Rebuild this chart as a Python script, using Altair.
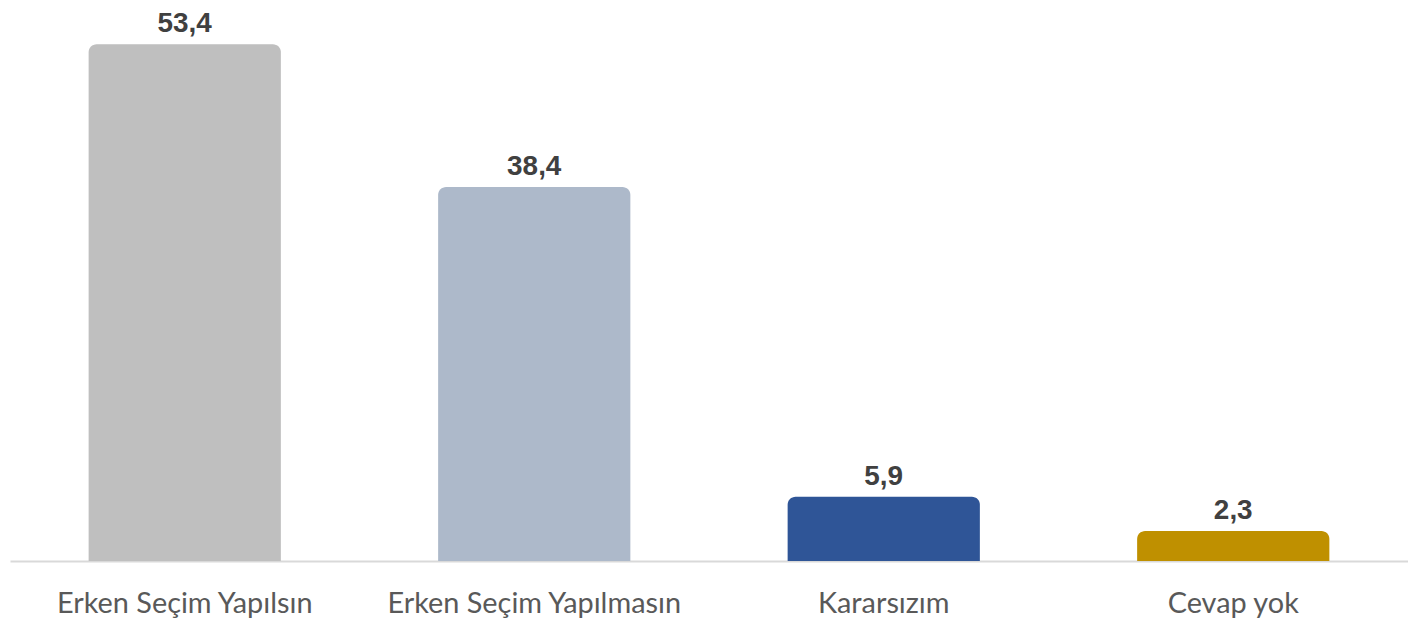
import altair as alt
import pandas as pd

categories = ["Erken Seçim Yapılsın", "Erken Seçim Yapılmasın", "Kararsızım", "Cevap yok"]
values = [53.4, 38.4, 5.9, 2.3]
labels = ["53,4", "38,4", "5,9", "2,3"]
colors = ["#bfbfbf", "#adb9ca", "#2f5597", "#bf9000"]

df = pd.DataFrame({"cat": categories, "val": values, "lab": labels, "col": colors})

BASE = -0.84
x = alt.X("cat:N", sort=categories, title=None,
          scale=alt.Scale(paddingInner=0.45, paddingOuter=0.225),
          axis=alt.Axis(labelAngle=0, ticks=False, domain=True, domainColor="#d9d9d9",
                        domainWidth=2, labelFont="Lato", labelFontSize=29, labelLimit=0,
                        labelColor="#595959", labelPadding=29, labelBaseline="top"))
y = alt.Y("val:Q", title=None, scale=alt.Scale(domain=[BASE, 56.01], nice=False, zero=False),
          axis=None)

base = alt.Chart(df)
bars = base.mark_bar(cornerRadiusTopLeft=8, cornerRadiusTopRight=8).encode(
    x=x, y=y, y2=alt.datum(BASE),
    color=alt.Color("col:N", scale=None))
text = base.mark_text(font="Liberation Sans", fontWeight="bold", fontSize=28,
                      color="#404040", baseline="alphabetic", dy=-12).encode(
    x=alt.X("cat:N", sort=categories), y="val:Q", text="lab:N")

chart = alt.layer(bars, text).properties(
    width=1404, height=544,
    padding={"left": 2, "top": 10, "right": 0, "bottom": 60},
    autosize=alt.AutoSizeParams(type="none"),
    background="white"
).configure_view(stroke=None)

chart.save("out.html", embed_options={"renderer": "svg", "actions": False})
